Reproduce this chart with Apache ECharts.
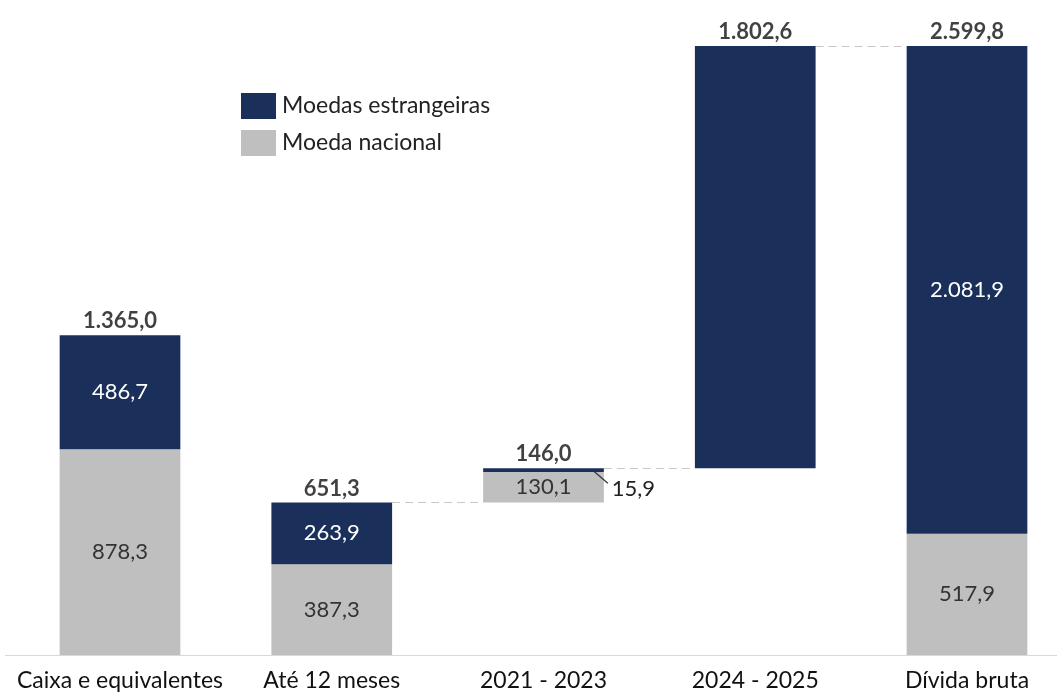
<!DOCTYPE html>
<html>
<head>
<meta charset="utf-8">
<script src="https://cdn.jsdelivr.net/npm/echarts@6/dist/echarts.min.js"></script>
<style>html,body{margin:0;padding:0;background:#fff}#c{width:1057px;height:693px}</style>
</head>
<body>
<div id="c"></div>
<script>
const categories = ['Caixa e equivalentes', 'Até 12 meses', '2021 - 2023', '2024 - 2025', 'Dívida bruta'];
const baseValues = [0, 0, 651.3, 797.3, 0];
const nacional = [878.3, 387.3, 130.1, null, 517.9];
const estrangeiras = [486.7, 263.9, 15.9, 1802.6, 2081.9];
const totals = [1365.0, 651.3, 146.0, 1802.6, 2599.8];
// connector lines: [from category index, level]
const connectors = [[1, 651.3], [2, 797.3], [3, 2599.9]];

const NAVY = '#1b2f5b';
const GRAY = '#bfbfbf';
const FONT = 'Lato';
const BARW = 0.57;

function fmt(v) {
  const parts = v.toFixed(1).split('.');
  parts[0] = parts[0].replace(/\B(?=(\d{3})+(?!\d))/g, '.');
  return parts.join(',');
}

const chart = echarts.init(document.getElementById('c'));
chart.setOption({
  animation: false,
  textStyle: { fontFamily: FONT },
  grid: { left: 120, right: 90, top: 46, bottom: 38, containLabel: false },
  legend: {
    orient: 'vertical', left: 241, top: 93, itemWidth: 35, itemHeight: 26, itemGap: 11,
    icon: 'rect', padding: 0,
    data: ['Moedas estrangeiras', 'Moeda nacional'],
    textStyle: { fontSize: 23, color: '#222', fontFamily: FONT, padding: [0, 0, 0, 1] }
  },
  graphic: [{
    type: 'line', shape: { x1: 5, y1: 655.5, x2: 1057, y2: 655.5 },
    style: { stroke: '#d9d9d9', lineWidth: 1 }, z: 0
  }],
  xAxis: {
    type: 'category', data: categories, boundaryGap: false,
    axisLine: { show: false },
    axisTick: { show: false },
    axisLabel: { fontSize: 23, color: '#111', margin: 14, fontFamily: FONT, interval: 0 }
  },
  yAxis: { type: 'value', min: 0, max: 2600, show: false, splitLine: { show: false } },
  series: [
    {
      name: 'base', type: 'bar', stack: 'w', barWidth: (BARW * 100) + '%',
      itemStyle: { color: 'transparent' }, data: baseValues, silent: true
    },
    {
      name: 'Moeda nacional', type: 'bar', stack: 'w', barWidth: (BARW * 100) + '%',
      itemStyle: { color: GRAY },
      label: { show: true, position: 'inside', fontSize: 22, color: '#333', fontFamily: FONT,
               formatter: p => fmt(p.value) },
      data: nacional
    },
    {
      name: 'Moedas estrangeiras', type: 'bar', stack: 'w', barWidth: (BARW * 100) + '%',
      itemStyle: { color: NAVY },
      label: { show: true, position: 'inside', fontSize: 22, color: '#fff', fontFamily: FONT,
               formatter: p => (p.dataIndex === 2 || p.dataIndex === 3) ? '' : fmt(p.value) },
      data: estrangeiras
    },
    {
      name: 'totals', type: 'scatter', symbolSize: 0, silent: true,
      label: { show: true, position: 'top', distance: 3, fontSize: 22, fontWeight: 'bold', color: '#111',
               fontFamily: FONT, formatter: p => fmt(totals[p.dataIndex]) },
      data: categories.map((c, i) => [i, baseValues[i] + totals[i]])
    },
    {
      name: 'connectors', type: 'custom', silent: true, z: 1,
      renderItem: function (params, api) {
        const i = api.value(0), lvl = api.value(1);
        const p1 = api.coord([i, lvl]), p2 = api.coord([i + 1, lvl]);
        const bw = api.size([1, 0])[0] * BARW;
        return {
          type: 'line',
          shape: { x1: p1[0] + bw / 2, y1: Math.round(p1[1]) + 0.5, x2: p2[0] - bw / 2, y2: Math.round(p2[1]) + 0.5 },
          style: { stroke: '#c8c8c8', lineWidth: 1.2, lineDash: [8, 5] }
        };
      },
      data: connectors,
      encode: { x: 0, y: 1 }
    },
    {
      name: 'smallLabel', type: 'custom', silent: true, z: 10, clip: false,
      renderItem: function (params, api) {
        const i = api.value(0), top = api.value(1);
        const p = api.coord([i, top]);
        const bw = api.size([1, 0])[0] * BARW;
        const rx = p[0] + bw / 2;
        return {
          type: 'group',
          children: [
            { type: 'line', shape: { x1: rx - 10, y1: p[1] + 3, x2: rx + 4, y2: p[1] + 15 },
              style: { stroke: '#333', lineWidth: 1.2 } },
            { type: 'text', style: { x: rx + 8, y: p[1] + 21, text: fmt(estrangeiras[i]), fill: '#222',
              font: '22px ' + FONT, textAlign: 'left', textVerticalAlign: 'middle' } }
          ]
        };
      },
      data: [[2, baseValues[2] + nacional[2] + estrangeiras[2]]],
      encode: { x: 0, y: 1 }
    }
  ]
});
</script>
</body>
</html>
